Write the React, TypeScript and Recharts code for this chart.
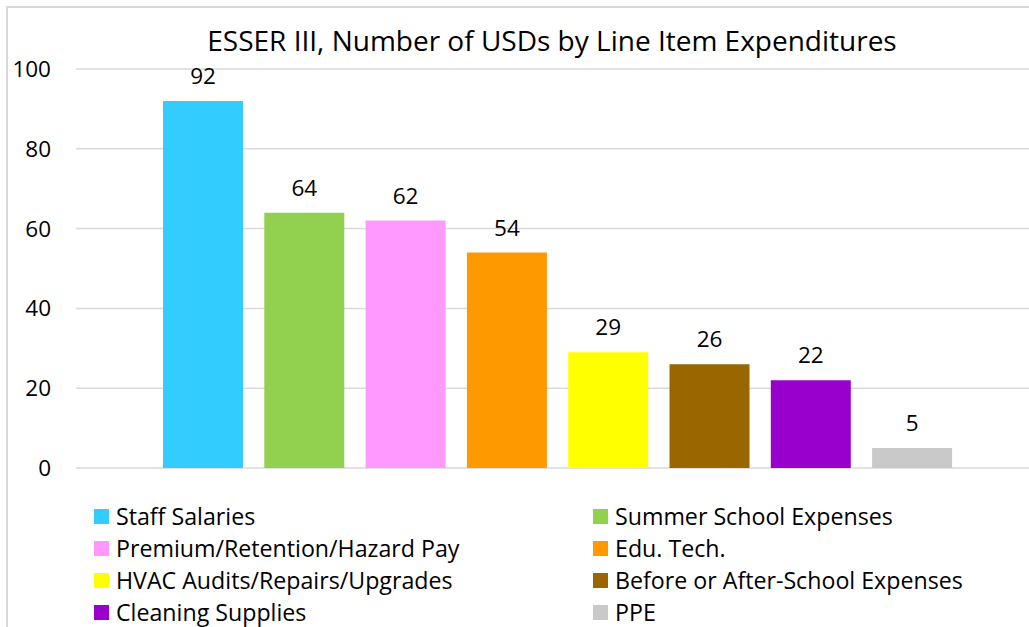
import React from "react";
import { BarChart, Bar, XAxis, YAxis, CartesianGrid, Legend, LabelList } from "recharts";

const categories = ["ESSER III"];
const seriesNames = [
  "Staff Salaries",
  "Summer School Expenses",
  "Premium/Retention/Hazard Pay",
  "Edu. Tech.",
  "HVAC Audits/Repairs/Upgrades",
  "Before or After-School Expenses",
  "Cleaning Supplies",
  "PPE",
];
const seriesValues = [92, 64, 62, 54, 29, 26, 22, 5];
const seriesColors = ["#33CCFF", "#92D050", "#FF99FF", "#FF9900", "#FFFF00", "#996600", "#9900CC", "#C9C9C9"];
const yTicks = [0, 20, 40, 60, 80, 100];
const title = "ESSER III, Number of USDs by Line Item Expenditures";

const data = categories.map((c) => {
  const row: Record<string, string | number> = { category: c };
  seriesNames.forEach((n, i) => {
    row["s" + i] = seriesValues[i];
  });
  return row;
});

const FONT = "'Open Sans', sans-serif";

const LegendContent = () => (
  <div
    style={{
      display: "grid",
      gridTemplateColumns: "499px 420px",
      rowGap: 0,
      fontFamily: FONT,
      fontSize: 23.2,
      color: "#000",
    }}
  >
    {seriesNames.map((n, i) => (
      <div key={n} style={{ display: "flex", alignItems: "center", height: 32 }}>
        <span style={{ width: 15, height: 15, background: seriesColors[i], marginRight: 7, display: "inline-block", flexShrink: 0 }} />
        <span style={{ whiteSpace: "nowrap" }}>{n}</span>
      </div>
    ))}
  </div>
);

export default function App() {
  return (
    <div style={{ position: "fixed", left: 0, top: 0, width: 1029, height: 627, overflow: "hidden", background: "#fff" }}>
      <div
        style={{
          position: "absolute",
          left: 6,
          top: 6,
          width: 1100,
          height: 700,
          border: "2px solid #d9d9d9",
          boxSizing: "border-box",
        }}
      />
      <div
        style={{
          position: "absolute",
          left: 0,
          top: 21,
          width: 1104,
          textAlign: "center",
          fontFamily: FONT,
          fontSize: 28,
          lineHeight: "38px",
          color: "#000",
          whiteSpace: "nowrap",
        }}
      >
        {title}
      </div>
      <div style={{ position: "absolute", left: 0, top: 0 }}>
        <BarChart
          width={1050}
          height={640}
          data={data}
          margin={{ top: 69, right: 11, left: 0, bottom: 44 }}
          barGap={21.3}
        >
          <CartesianGrid vertical={false} stroke="#d9d9d9" strokeWidth={1.5} />
          <XAxis dataKey="category" hide />
          <YAxis
            width={76}
            domain={[0, 100]}
            ticks={yTicks}
            axisLine={false}
            tickLine={false}
            tickSize={0}
            tickMargin={25}
            tick={{ fontFamily: FONT, fontSize: 22.5, fill: "#000" }}
          />
          <Legend
            content={<LegendContent />}
            wrapperStyle={{ position: "absolute", left: 94, top: 500, width: 940 }}
          />
          {seriesNames.map((n, i) => (
            <Bar key={n} dataKey={"s" + i} name={n} fill={seriesColors[i]} barSize={80} isAnimationActive={false}>
              <LabelList dataKey={"s" + i} position="top" offset={17} style={{ fontFamily: FONT, fontSize: 22.5, fill: "#000" }} />
            </Bar>
          ))}
        </BarChart>
      </div>
    </div>
  );
}
